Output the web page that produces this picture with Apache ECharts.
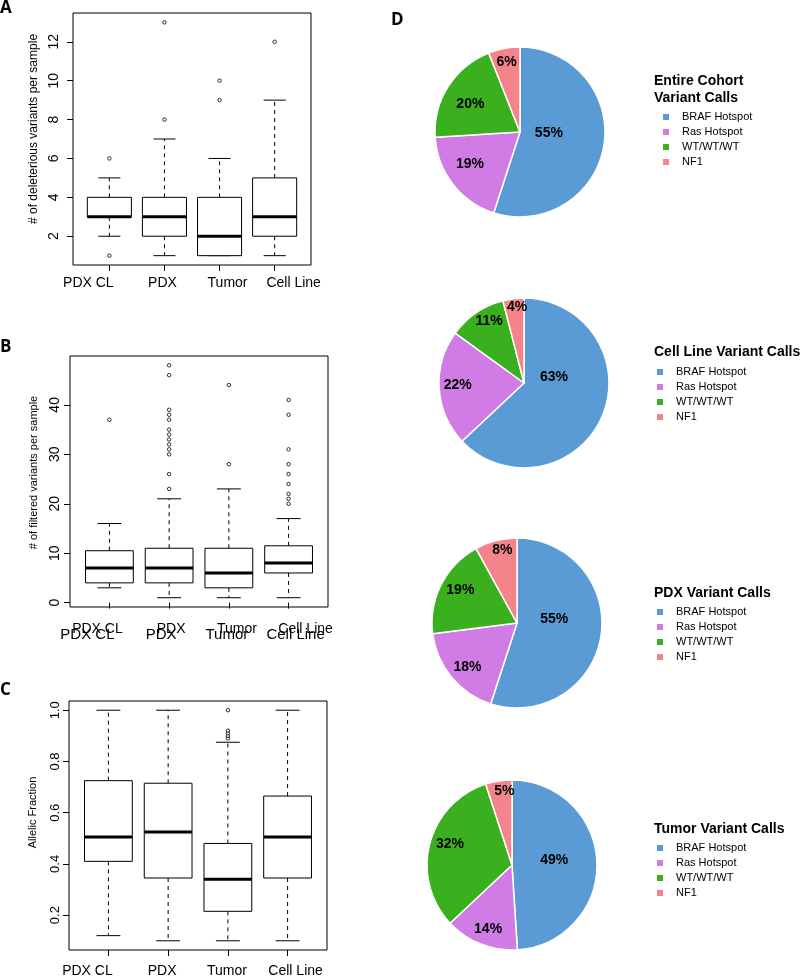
<!DOCTYPE html>
<html><head><meta charset="utf-8">
<script src="https://cdn.jsdelivr.net/npm/echarts@6/dist/echarts.min.js"></script>
<style>html,body{margin:0;padding:0;background:#fff}#c{width:800px;height:978px}</style>
</head><body><div id="c"></div>
<script>
// ---------------- data ----------------
const categories = ['PDX CL', 'PDX', 'Tumor', 'Cell Line'];
// box stats per category: [lower whisker, Q1, median, Q3, upper whisker]
const deleteriousStats = [[2, 3, 3, 4, 5], [1, 2, 3, 4, 7], [1, 1, 2, 4, 6], [1, 2, 3, 5, 9]];
const deleteriousOutliers = [[1, 6], [8, 13], [9, 10], [12]];
const deleteriousTicks = [2, 4, 6, 8, 10, 12];

const filteredStats = [[3, 4, 7, 10.5, 16], [1, 4, 7, 11, 21], [1, 3, 6, 11, 23], [1, 6, 8, 11.5, 17]];
const filteredOutliers = [[37], [23, 26, 30, 31, 32, 33, 34, 35, 37, 38, 39, 46, 48], [28, 44], [20, 21, 22, 24, 26, 28, 31, 38, 41]];
const filteredTicks = [0, 10, 20, 30, 40];

const alleleStats = [[0.12, 0.41, 0.505, 0.725, 1.0], [0.10, 0.345, 0.525, 0.715, 1.0], [0.10, 0.215, 0.34, 0.48, 0.875], [0.10, 0.345, 0.505, 0.665, 1.0]];
const alleleOutliers = [[], [], [0.89, 0.90, 0.91, 0.92, 1.0], []];
const alleleTicks = [0.2, 0.4, 0.6, 0.8, 1.0];

const variantClasses = ['BRAF Hotspot', 'Ras Hotspot', 'WT/WT/WT', 'NF1'];
const cohortPct = [55, 19, 20, 6];
const cellLinePct = [63, 22, 11, 4];
const pdxPct = [55, 18, 19, 8];
const tumorPct = [49, 14, 32, 5];
const pieTitles = ['Entire Cohort\nVariant Calls', 'Cell Line Variant Calls', 'PDX Variant Calls', 'Tumor Variant Calls'];

// ---------------- style ----------------
const FONT = '"Liberation Sans", Arial, Helvetica, sans-serif';
const sliceColors = ['#5B9BD5', '#D07CE4', '#3AB01F', '#F4838B'];
const pieCenters = [[520, 132], [524, 383], [517, 623], [512, 865]];
const pieR = 85;
// [radius fraction, angle nudge (deg)] for each slice label
const labelNudge = [
  [[0.34, -6], [0.70, 5], [0.67, -3], [0.84, 0]],
  [[0.36, -35], [0.78, 2], [0.84, 5], [0.90, 2]],
  [[0.44, -15], [0.78, -2], [0.77, 3], [0.87, 3]],
  [[0.50, -5], [0.80, -1], [0.77, 4], [0.87, 3]]
];

function rRange(stats, outliers) {
  const all = stats.flat().concat(outliers.flat());
  const lo = Math.min(...all), hi = Math.max(...all), d = (hi - lo) * 0.04;
  return [lo - d, hi + d];
}
function boxData(stats) { return stats.map((s, i) => [i + 1].concat(s)); }
function outlierData(outl) { return outl.flatMap((arr, i) => arr.map(v => [i + 1, v])); }

function boxRender(params, api) {
  const x = api.value(0);
  const y = i => api.coord([x, api.value(i)])[1];
  const cx = api.coord([x, api.value(3)])[0];
  const w = api.size([0.8, 0])[0];
  const sw = w / 2;
  const yLo = y(1), yQ1 = y(2), yMed = y(3), yQ3 = y(4), yHi = y(5);
  const dash = { stroke: '#000', lineWidth: 1, lineDash: [4, 4], fill: null };
  const solid = { stroke: '#000', lineWidth: 1, fill: null };
  return {
    type: 'group', children: [
      { type: 'line', shape: { x1: cx, y1: yQ1, x2: cx, y2: yLo }, style: dash },
      { type: 'line', shape: { x1: cx, y1: yQ3, x2: cx, y2: yHi }, style: dash },
      { type: 'line', shape: { x1: cx - sw / 2, y1: yLo, x2: cx + sw / 2, y2: yLo }, style: solid },
      { type: 'line', shape: { x1: cx - sw / 2, y1: yHi, x2: cx + sw / 2, y2: yHi }, style: solid },
      { type: 'rect', shape: { x: cx - w / 2, y: yQ3, width: w, height: yQ1 - yQ3 }, style: { fill: '#fff', stroke: '#000', lineWidth: 1 } },
      { type: 'line', shape: { x1: cx - w / 2, y1: yMed, x2: cx + w / 2, y2: yMed }, style: { stroke: '#000', lineWidth: 3 } }
    ]
  };
}

function xAxisFor(gridIndex, shifts, fontSize, margin, ticks) {
  const rich = {};
  shifts.forEach((s, i) => {
    rich['s' + i] = { fontSize: fontSize, fontFamily: FONT, color: '#000', padding: s < 0 ? [0, -2 * s, 0, 0] : [0, 0, 0, 2 * s] };
  });
  return {
    type: 'value', gridIndex: gridIndex, position: 'bottom', min: 0.34, max: 4.66,
    splitLine: { show: false }, axisLine: { show: false },
    axisTick: { show: ticks, length: 6, customValues: [1, 2, 3, 4], lineStyle: { color: '#000', width: 1 } },
    axisLabel: {
      customValues: [1, 2, 3, 4], margin: margin, fontSize: fontSize, color: '#000',
      formatter: v => { const i = Math.round(v) - 1; return '{s' + i + '|' + categories[i] + '}'; },
      rich: rich
    }
  };
}
function yAxisFor(gridIndex, range, ticks, fmt, labelSize, margin, name, nameSize, nameGap, namePad) {
  return {
    type: 'value', gridIndex: gridIndex, min: range[0], max: range[1],
    splitLine: { show: false }, axisLine: { show: false },
    axisTick: { show: true, length: 6, customValues: ticks, lineStyle: { color: '#000', width: 1 } },
    axisLabel: { customValues: ticks, rotate: 90, margin: margin, fontSize: labelSize, color: '#000', formatter: fmt },
    name: name, nameLocation: 'middle', nameGap: nameGap,
    nameTextStyle: { fontSize: nameSize, color: '#000', fontFamily: FONT, padding: [0, 0, 0, namePad] }
  };
}

function boxSeries(idx, stats, outl) {
  return [
    { type: 'custom', xAxisIndex: idx, yAxisIndex: idx, renderItem: boxRender, data: boxData(stats),
      encode: { x: 0, y: [1, 2, 3, 4, 5] }, silent: true, z: 2 },
    { type: 'scatter', xAxisIndex: idx, yAxisIndex: idx, data: outlierData(outl), symbol: 'circle', symbolSize: 3.5,
      itemStyle: { color: '#fff', borderColor: '#000', borderWidth: 1 }, silent: true, z: 3 }
  ];
}

function makeLabelLayout(k) {
  return function (p) {
    const c = pieCenters[k];
    const r = p.labelRect;
    const lx = r.x + r.width / 2, ly = r.y + r.height / 2;
    const nud = labelNudge[k][p.dataIndex];
    const th = Math.atan2(lx - c[0], -(ly - c[1])) + nud[1] * Math.PI / 180;
    const rr = nud[0] * pieR;
    return { dx: c[0] + rr * Math.sin(th) - lx, dy: c[1] - rr * Math.cos(th) - ly };
  };
}
function pieSeries(k, values) {
  return {
    type: 'pie', center: pieCenters[k], radius: pieR, startAngle: 90, clockwise: true,
    avoidLabelOverlap: false, silent: true, emphasis: { disabled: true },
    itemStyle: { borderColor: '#fff', borderWidth: 1.5 },
    label: { show: true, position: 'inside', formatter: '{c}%', fontSize: 14, fontWeight: 'bold', color: '#000', fontFamily: FONT },
    labelLine: { show: false },
    labelLayout: makeLabelLayout(k),
    data: variantClasses.map((n, i) => ({ name: n, value: values[i], itemStyle: { color: sliceColors[i] } }))
  };
}

const rangeA = rRange(deleteriousStats, deleteriousOutliers);
const rangeB = rRange(filteredStats, filteredOutliers);
const rangeC = rRange(alleleStats, alleleOutliers);

const legendTops = [111, 366, 606, 842];
const legendLefts = [661, 655, 655, 655];
const titleTops = [73, 344, 585, 821];
const titleLefts = [654, 654, 654, 654];

const option = {
  animation: false,
  backgroundColor: '#fff',
  textStyle: { fontFamily: FONT },
  color: sliceColors,
  title: [
    { text: 'A', left: 0, top: 0 },
    { text: 'B', left: 0, top: 339 },
    { text: 'C', left: 0, top: 682 },
    { text: 'D', left: 391, top: 12 }
  ].map(t => Object.assign(t, { padding: 0, textStyle: { fontSize: 17, fontWeight: 'bold', color: '#000', fontFamily: '"Open Sans", ' + FONT } }))
    .concat(pieTitles.map((t, k) => ({
      text: t, left: titleLefts[k], top: titleTops[k], padding: 0,
      textStyle: { fontSize: 14, fontWeight: 'bold', color: '#000', lineHeight: 17, fontFamily: FONT }
    }))),
  legend: pieTitles.map((t, k) => ({
    orient: 'vertical', left: legendLefts[k], top: legendTops[k], padding: 0,
    itemWidth: 8, itemHeight: 8, itemGap: 3, icon: 'rect', selectedMode: false,
    data: variantClasses,
    textStyle: { fontSize: 11, color: '#000', lineHeight: 12, padding: [0, 0, 0, 7], fontFamily: FONT }
  })),
  grid: [
    { left: 73, top: 13, width: 238, height: 252, show: true, borderColor: '#000', borderWidth: 1, backgroundColor: 'transparent' },
    { left: 70, top: 356, width: 258, height: 251, show: true, borderColor: '#000', borderWidth: 1, backgroundColor: 'transparent' },
    { left: 69, top: 701, width: 258, height: 251, show: true, borderColor: '#000', borderWidth: 1, backgroundColor: 'transparent' }
  ],
  xAxis: [
    xAxisFor(0, [-21, -2, 8, 19], 14, 11, true),
    xAxisFor(1, [-22, -8, -2, 7], 15, 20, true),
    xAxisFor(2, [-21, -6, -1, 8], 14, 14, true),
    xAxisFor(1, [-12, 2, 8, 17], 14, 15, false)
  ],
  yAxis: [
    yAxisFor(0, rangeA, deleteriousTicks, v => String(v), 14, 12, '# of deleterious variants per sample', 12, 33, 20),
    yAxisFor(1, rangeB, filteredTicks, v => String(v), 14, 8, '# of filtered variants per sample', 11, 31, 18),
    yAxisFor(2, rangeC, alleleTicks, v => v.toFixed(1), 13, 7, 'Allelic Fraction', 11, 31, 26)
  ],
  series: [].concat(
    boxSeries(0, deleteriousStats, deleteriousOutliers),
    boxSeries(1, filteredStats, filteredOutliers),
    boxSeries(2, alleleStats, alleleOutliers),
    [pieSeries(0, cohortPct), pieSeries(1, cellLinePct), pieSeries(2, pdxPct), pieSeries(3, tumorPct)]
  )
};

const chart = echarts.init(document.getElementById('c'), null, { renderer: 'canvas' });
chart.setOption(option);
</script>
</body></html>
